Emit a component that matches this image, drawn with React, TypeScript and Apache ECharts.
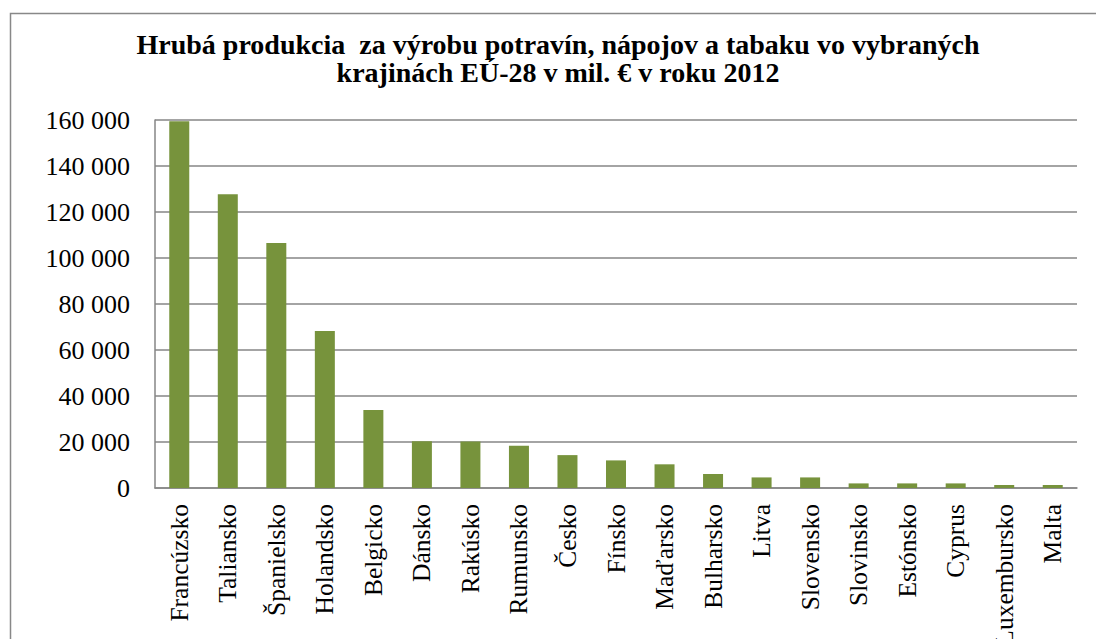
import React, { useEffect, useRef } from "react";
import * as echarts from "echarts";

const TITLE_LINE_1 = "Hrubá produkcia  za výrobu potravín, nápojov a tabaku vo vybraných";
const TITLE_LINE_2 = "krajinách EÚ-28 v mil. € v roku 2012";

const categories = [
  "Francúzsko", "Taliansko", "Španielsko", "Holandsko", "Belgicko", "Dánsko",
  "Rakúsko", "Rumunsko", "Česko", "Fínsko", "Maďarsko", "Bulharsko", "Litva",
  "Slovensko", "Slovinsko", "Estónsko", "Cyprus", "Luxembursko", "Malta",
];

const values = [
  159500, 127700, 106500, 68300, 33900, 20300, 20200, 18400, 14300, 12000,
  10300, 6100, 4600, 4600, 2000, 2000, 2000, 1300, 1300,
];

const yMin = 0;
const yMax = 160000;
const yStep = 20000;

const SERIF = "Liberation Serif";

function fmt(v: number): string {
  return String(v).replace(/\B(?=(\d{3})+(?!\d))/g, " ");
}

export default function App() {
  const ref = useRef<HTMLDivElement>(null);
  useEffect(() => {
    if (!ref.current) return;
    const chart = echarts.init(ref.current, undefined, { renderer: "svg" });
    chart.setOption({
      animation: false,
      backgroundColor: "#ffffff",
      textStyle: { fontFamily: SERIF },
      title: {
        text: TITLE_LINE_1 + "\n" + TITLE_LINE_2,
        left: 553,
        top: 25,
        textAlign: "center",
        textStyle: {
          fontFamily: SERIF,
          fontSize: 28,
          fontWeight: "bold",
          lineHeight: 28,
          color: "#000000",
        },
      },
      graphic: [
        {
          type: "rect",
          shape: { x: 10.5, y: 13.5, width: 1200, height: 800 },
          style: { fill: "none", stroke: "#888888", lineWidth: 1.5 },
          silent: true,
        },
      ],
      grid: {
        left: 155,
        right: 19,
        top: 120,
        bottom: 151,
        containLabel: false,
        outerBoundsMode: "none",
      },
      xAxis: {
        type: "category",
        data: categories,
        axisLine: { show: true, lineStyle: { color: "#868686", width: 1.5 } },
        axisTick: { show: false },
        axisLabel: {
          interval: 0,
          rotate: 90,
          margin: 16,
          fontFamily: SERIF,
          fontSize: 25.5,
          color: "#000000",
        },
      },
      yAxis: {
        type: "value",
        min: yMin,
        max: yMax,
        interval: yStep,
        axisLine: { show: true, lineStyle: { color: "#868686", width: 1.5 } },
        axisTick: { show: false },
        splitLine: { show: true, lineStyle: { color: "#868686", width: 1.5 } },
        axisLabel: {
          margin: 25,
          fontFamily: SERIF,
          fontSize: 26,
          color: "#000000",
          formatter: (v: number) => fmt(v),
        },
      },
      series: [
        {
          type: "bar",
          data: values,
          barWidth: 20,
          itemStyle: { color: "#77933C" },
        },
      ],
    });
    return () => chart.dispose();
  }, []);
  return (
    <div
      ref={ref}
      style={{ position: "fixed", left: 0, top: 0, width: 1096, height: 639 }}
    />
  );
}
